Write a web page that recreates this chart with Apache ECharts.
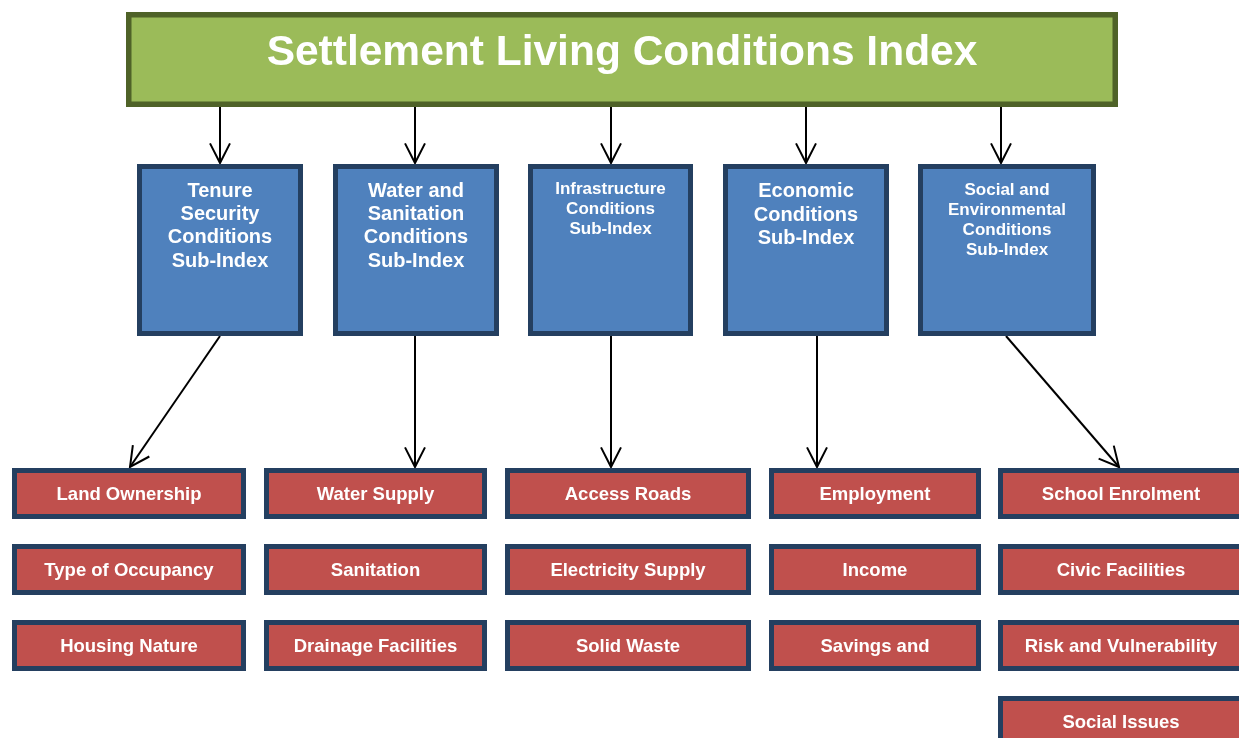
<!DOCTYPE html>
<html>
<head>
<meta charset="utf-8">
<script src="https://cdn.jsdelivr.net/npm/echarts@6/dist/echarts.min.js"></script>
<style>html,body{margin:0;padding:0;background:#fff}#c{width:1239px;height:738px}</style>
</head>
<body>
<div id="c"></div>
<script>
// ---- content ----
const titleText = 'Settlement Living Conditions Index';
const subIndexNames = [
  'Tenure\nSecurity\nConditions\nSub-Index',
  'Water and\nSanitation\nConditions\nSub-Index',
  'Infrastructure\nConditions\nSub-Index',
  'Economic\nConditions\nSub-Index',
  'Social and\nEnvironmental\nConditions\nSub-Index'
];
const tenureItems = ['Land Ownership', 'Type of Occupancy', 'Housing Nature'];
const waterItems = ['Water Supply', 'Sanitation', 'Drainage Facilities'];
const infraItems = ['Access Roads', 'Electricity Supply', 'Solid Waste'];
const economicItems = ['Employment', 'Income', 'Savings and'];
const socialItems = ['School Enrolment', 'Civic Facilities', 'Risk and Vulnerability', 'Social Issues'];
const itemGroups = [tenureItems, waterItems, infraItems, economicItems, socialItems];

// ---- layout (diagram coordinates on hidden value axes) ----
const layout = {
  title: [126, 12, 1118, 107],
  titleTextY: 53.5,
  subCols: [[137, 303], [333, 499], [528, 693], [723, 889], [918, 1096]],
  subY: [164, 336],
  subTextTop: [179.5, 179.5, 179.8, 180.2, 180],
  itemCols: [[12, 246], [264, 487], [505, 751], [769, 981], [998, 1244]],
  itemTop: 468, itemH: 51, itemStep: 76, itemTextShift: 1,
  topArrowX: [220, 415, 611, 806, 1001],
  topArrowY: [107, 163],
  bottomArrows: [[220, 130], [415, 415], [611, 611], [817, 817], [1006, 1119]],
  bottomArrowY: [336, 467]
};
// ---- styles ----
const subFont = [20, 20, 17, 20, 17];
const subLineH = [23.3, 23.3, 20, 23.3, 20];
const FONT = '"Liberation Sans", Arial, sans-serif';

// ---- build records ----
const boxes = [];
boxes.push({ r: layout.title, text: titleText, fill: '#9BBB59', stroke: '#4F6228', lw: 5.5,
  size: 42.5, lh: 48, textY: layout.titleTextY, va: 'middle' });
subIndexNames.forEach((name, i) => {
  const c = layout.subCols[i];
  boxes.push({ r: [c[0], layout.subY[0], c[1], layout.subY[1]], text: name, fill: '#4F81BD', stroke: '#243F60',
    lw: 5, size: subFont[i], lh: subLineH[i], textY: layout.subTextTop[i], va: 'top' });
});
itemGroups.forEach((items, i) => {
  const c = layout.itemCols[i];
  items.forEach((name, j) => {
    const y0 = layout.itemTop + j * layout.itemStep;
    boxes.push({ r: [c[0], y0, c[1], y0 + layout.itemH], text: name, fill: '#C0504D', stroke: '#243F60',
      lw: 5, size: 18.5, lh: 22, textY: y0 + layout.itemH / 2 + layout.itemTextShift, va: 'middle' });
  });
});
const arrows = [];
layout.topArrowX.forEach(x => arrows.push([x, layout.topArrowY[0], x, layout.topArrowY[1]]));
layout.bottomArrows.forEach(a => arrows.push([a[0], layout.bottomArrowY[0], a[1], layout.bottomArrowY[1]]));

function renderBox(params, api) {
  const b = boxes[params.dataIndex];
  const p0 = api.coord([api.value(0), api.value(1)]);
  const p1 = api.coord([api.value(2), api.value(3)]);
  const lw = b.lw;
  const ty = api.coord([0, b.textY])[1];
  return {
    type: 'group',
    children: [
      { type: 'rect', shape: { x: p0[0] + lw / 2, y: p0[1] + lw / 2, width: p1[0] - p0[0] - lw, height: p1[1] - p0[1] - lw },
        style: { fill: b.fill, stroke: b.stroke, lineWidth: lw } },
      { type: 'text', style: { text: b.text, x: (p0[0] + p1[0]) / 2, y: ty, align: 'center', verticalAlign: b.va,
        fill: '#ffffff', fontSize: b.size, fontWeight: 'bold', fontFamily: FONT, lineHeight: b.lh } }
    ]
  };
}
function renderArrow(params, api) {
  const s = api.coord([api.value(0), api.value(1)]);
  const e = api.coord([api.value(2), api.value(3)]);
  const ang = Math.atan2(e[1] - s[1], e[0] - s[0]);
  const len = 22, spread = 27 * Math.PI / 180;
  const l = [e[0] - len * Math.cos(ang - spread), e[1] - len * Math.sin(ang - spread)];
  const r = [e[0] - len * Math.cos(ang + spread), e[1] - len * Math.sin(ang + spread)];
  return {
    type: 'group',
    children: [
      { type: 'line', shape: { x1: s[0], y1: s[1], x2: e[0], y2: e[1] }, style: { stroke: '#000', lineWidth: 2 } },
      { type: 'polyline', shape: { points: [l, e, r] }, style: { stroke: '#000', lineWidth: 2, fill: null } }
    ]
  };
}

const chart = echarts.init(document.getElementById('c'), null, { renderer: 'canvas' });
chart.setOption({
  backgroundColor: '#ffffff',
  animation: false,
  grid: { left: 0, right: 0, top: 0, bottom: 0 },
  xAxis: { type: 'value', min: 0, max: 1239, show: false },
  yAxis: { type: 'value', min: 0, max: 738, inverse: true, show: false },
  series: [
    { type: 'custom', renderItem: renderArrow, data: arrows, clip: false, silent: true },
    { type: 'custom', renderItem: renderBox, data: boxes.map(b => b.r), clip: false, silent: true }
  ]
});
</script>
</body>
</html>
